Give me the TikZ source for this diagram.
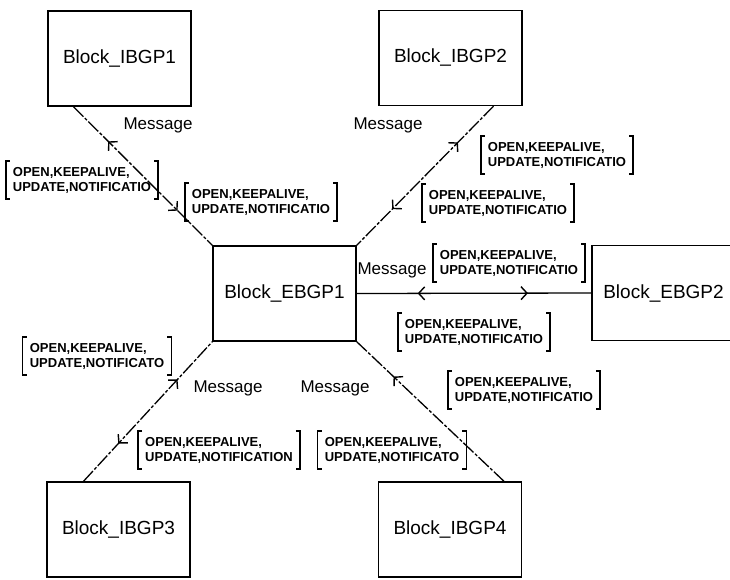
\documentclass[tikz,border=0pt]{standalone}
\usepackage{fontspec}
\setmainfont{Liberation Sans}
\usetikzlibrary{arrows.meta, decorations.markings}

\newcommand{\bgpfields}[1]{OPEN,KEEPALIVE,\\UPDATE,#1}

\begin{document}
\begin{tikzpicture}
  [x = 1pt, y = -1pt,
   barb/.tip = {Straight Barb[length=6pt, width=13pt, line width=1.4pt]},
   block/.style = {draw, line width=1.4pt, minimum width=143pt,
     minimum height=95pt, inner sep=0pt, font=\fontsize{19}{21}\selectfont},
   msg/.style = {inner sep=0pt, font=\fontsize{17}{19}\selectfont},
   fields/.style = {align=left, inner xsep=7pt, inner ysep=6pt,
     font=\bfseries\fontsize{13}{15}\selectfont,
     append after command={\pgfextra{
       \draw[line width=1.6pt] ([xshift=4pt]\tikzlastnode.north west)
         -- (\tikzlastnode.north west) -- (\tikzlastnode.south west)
         -- ([xshift=4pt]\tikzlastnode.south west);
       \draw[line width=1.6pt] ([xshift=-4pt]\tikzlastnode.north east)
         -- (\tikzlastnode.north east) -- (\tikzlastnode.south east)
         -- ([xshift=-4pt]\tikzlastnode.south east);}}},
   link/.style = {line width=1.3pt},
   diag/.style = {link, dash pattern=on 14pt off 2pt on 3pt off 2pt},
   fwd/.style = {postaction={decorate, decoration={markings,
       mark=at position #1 with {\arrow{barb}}}}},
   back/.style = {postaction={decorate, decoration={markings,
       mark=at position #1 with {\arrowreversed{barb}}}}}]

  \clip (0,0) rectangle (730,579);

  \node[block] (ibgp1) at (119.5,58.5) {Block\_IBGP1};
  \node[block] (ibgp2) at (450.5,58)   {Block\_IBGP2};
  \node[block] (ebgp1) at (284.5,293.5) {Block\_EBGP1};
  \node[block] (ebgp2) at (663.5,293)  {Block\_EBGP2};
  \node[block] (ibgp3) at (118.5,529.5) {Block\_IBGP3};
  \node[block] (ibgp4) at (450,529.5)  {Block\_IBGP4};

  \draw[diag, back=0.25, fwd=0.75] ([xshift=-46pt]ibgp1.south) -- (ebgp1.north west);
  \draw[diag, back=0.26, fwd=0.74] ([xshift=43pt]ibgp2.south)  -- (ebgp1.north east);
  \draw[link, back=0.26, fwd=0.73] (ebgp1.east) -- (ebgp2.west);
  \draw[diag, back=0.27, fwd=0.73] ([xshift=-35pt]ibgp3.north) -- (ebgp1.south west);
  \draw[diag, fwd=0.75]            ([xshift=54pt]ibgp4.north)  -- (ebgp1.south east);

  \node[msg] (msg1) at (158,125) {Message};
  \node[msg] (msg2) at (388,125) {Message};
  \node[msg] (msg3) at (392,270) {Message};
  \node[msg] (msg4) at (228,388) {Message};
  \node[msg] (msg5) at (335,388) {Message};

  \node[fields] (f1)  at (82,180)  {\bgpfields{NOTIFICATIO}};
  \node[fields] (f2)  at (261,202) {\bgpfields{NOTIFICATIO}};
  \node[fields] (f3)  at (557,155) {\bgpfields{NOTIFICATIO}};
  \node[fields] (f4)  at (498,203) {\bgpfields{NOTIFICATIO}};
  \node[fields] (f5)  at (509,263) {\bgpfields{NOTIFICATIO}};
  \node[fields] (f6)  at (474,332) {\bgpfields{NOTIFICATIO}};
  \node[fields] (f7)  at (524,390) {\bgpfields{NOTIFICATIO}};
  \node[fields] (f8)  at (392,450) {\bgpfields{NOTIFICATO}};
  \node[fields] (f9)  at (97,356)  {\bgpfields{NOTIFICATO}};
  \node[fields] (f10) at (219,450) {\bgpfields{NOTIFICATION}};
\end{tikzpicture}
\end{document}
